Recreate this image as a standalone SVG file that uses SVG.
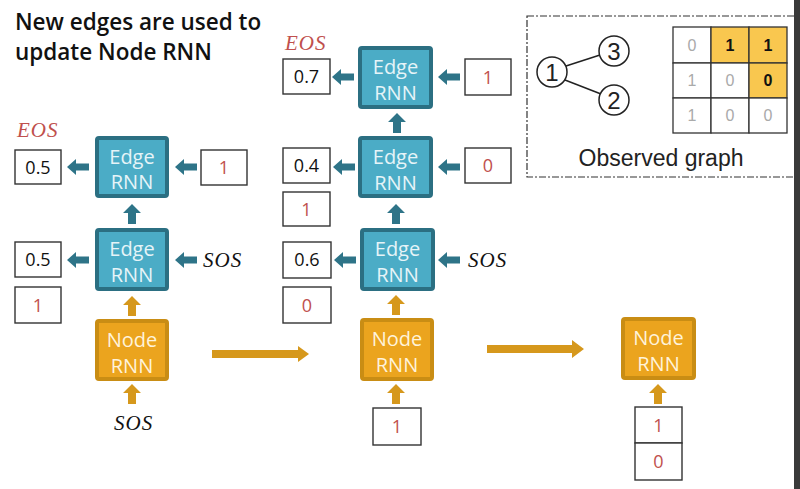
<svg xmlns="http://www.w3.org/2000/svg" xmlns:xlink="http://www.w3.org/1999/xlink" width="800" height="489" viewBox="0 0 800 489">
  <style>
    .title { font-family: "Open Sans", "Liberation Sans", sans-serif; font-weight: 600; font-size: 22.5px; fill: #111; }
    .edge rect { fill: #4BACC6; stroke: #2B6F82; stroke-width: 4; }
    .node rect { fill: #EBA41E; stroke: #C98D14; stroke-width: 4; }
    .rnn-t { font-family: "Open Sans", "Liberation Sans", sans-serif; font-size: 20px; text-anchor: middle; }
    .edge text { fill: #E6F4F8; }
    .node text { fill: #FFF3DA; }
    .box { fill: #fff; stroke: #333; stroke-width: 1.4; }
    .num { font-family: "Open Sans", "Liberation Sans", sans-serif; font-size: 18px; text-anchor: middle; fill: #111; }
    .red { fill: #C0504D; }
    .tok { font-family: "Liberation Serif", serif; font-style: italic; font-size: 21px; letter-spacing: 1px; fill: #111; }
    .tok.red { fill: #C0504D; }
    .ta { fill: #2E7488; }
    .oa { fill: #D6981C; }
    .gc { fill: #fff; stroke: #222; stroke-width: 1.5; }
    .gt { font-family: "Liberation Sans", sans-serif; font-size: 24px; text-anchor: middle; fill: #222; }
    .cell { fill: #fff; stroke: #333; stroke-width: 1.3; }
    .mt { font-family: "Liberation Sans", sans-serif; font-size: 16px; text-anchor: middle; fill: #AAAAAA; }
    .mt.b { fill: #111; font-weight: bold; }
  </style>
  <defs>
    <path id="la" d="M-11,0 L-2,-8 L-2,-3.5 L11,-3.5 L11,3.5 L-2,3.5 L-2,8 Z"/>
    <path id="ua" d="M0,-10 L9,-1 L4,-1 L4,10 L-4,10 L-4,-1 L-9,-1 Z"/>
  </defs>

  <rect x="0" y="0" width="800" height="489" fill="#fff"/>

  <g id="title">
    <text class="title" x="15" y="30">New edges are used to</text>
    <text class="title" x="15" y="60">update Node RNN</text>
  </g>

  <!-- Column 1 -->
  <g id="c1-eos"><text class="tok red" x="17" y="137">EOS</text></g>
  <g id="c1-out1"><rect class="box" x="15" y="150" width="46" height="34"/><text class="num" x="38" y="174">0.5</text></g>
  <g id="c1-edge1" class="edge"><rect x="97" y="138" width="70" height="58" rx="2"/><text class="rnn-t" x="132" y="164">Edge</text><text class="rnn-t" x="132" y="189">RNN</text></g>
  <g id="c1-in1"><rect class="box" x="201" y="150" width="46" height="35"/><text class="num red" x="224" y="174">1</text></g>
  <g id="c1-out2"><rect class="box" x="15" y="242" width="46" height="35"/><text class="num" x="38" y="266">0.5</text></g>
  <g id="c1-samp2"><rect class="box" x="15" y="287" width="46" height="36"/><text class="num red" x="38" y="312">1</text></g>
  <g id="c1-edge2" class="edge"><rect x="97" y="230" width="70" height="59" rx="2"/><text class="rnn-t" x="132" y="256">Edge</text><text class="rnn-t" x="132" y="282">RNN</text></g>
  <g id="c1-sos-r"><text class="tok" x="203" y="267">SOS</text></g>
  <g id="c1-node" class="node"><rect x="97" y="321" width="70" height="58" rx="2"/><text class="rnn-t" x="132" y="347">Node</text><text class="rnn-t" x="132" y="373">RNN</text></g>
  <g id="c1-sos-b"><text class="tok" x="114" y="430">SOS</text></g>

  <!-- Column 2 -->
  <g id="c2-eos"><text class="tok red" x="285" y="50">EOS</text></g>
  <g id="c2-out1"><rect class="box" x="283" y="59" width="47" height="35"/><text class="num" x="306.5" y="83">0.7</text></g>
  <g id="c2-edge1" class="edge"><rect x="360" y="48" width="71" height="59" rx="2"/><text class="rnn-t" x="395.5" y="74">Edge</text><text class="rnn-t" x="395.5" y="100">RNN</text></g>
  <g id="c2-in1"><rect class="box" x="465" y="59" width="46" height="36"/><text class="num red" x="488" y="84">1</text></g>
  <g id="c2-out2"><rect class="box" x="283" y="148" width="47" height="35"/><text class="num" x="306.5" y="172">0.4</text></g>
  <g id="c2-samp2"><rect class="box" x="283" y="192" width="47" height="34"/><text class="num red" x="306.5" y="216">1</text></g>
  <g id="c2-edge2" class="edge"><rect x="360" y="138" width="71" height="58" rx="2"/><text class="rnn-t" x="395.5" y="164">Edge</text><text class="rnn-t" x="395.5" y="190">RNN</text></g>
  <g id="c2-in2"><rect class="box" x="465" y="148" width="46" height="35"/><text class="num red" x="488" y="172">0</text></g>
  <g id="c2-out3"><rect class="box" x="283" y="242" width="48" height="36"/><text class="num" x="307" y="266">0.6</text></g>
  <g id="c2-samp3"><rect class="box" x="283" y="287" width="48" height="36"/><text class="num red" x="307" y="312">0</text></g>
  <g id="c2-edge3" class="edge"><rect x="362" y="230" width="71" height="59" rx="2"/><text class="rnn-t" x="397.5" y="256">Edge</text><text class="rnn-t" x="397.5" y="282">RNN</text></g>
  <g id="c2-sos-r"><text class="tok" x="468" y="267">SOS</text></g>
  <g id="c2-node" class="node"><rect x="362" y="320" width="70" height="59" rx="2"/><text class="rnn-t" x="397" y="346">Node</text><text class="rnn-t" x="397" y="372">RNN</text></g>
  <g id="c2-in"><rect class="box" x="373" y="408" width="48" height="37"/><text class="num red" x="397" y="433">1</text></g>

  <!-- Column 3 -->
  <g id="c3-node" class="node"><rect x="623" y="319" width="71" height="59" rx="2"/><text class="rnn-t" x="658.5" y="345">Node</text><text class="rnn-t" x="658.5" y="371">RNN</text></g>
  <g id="c3-in"><rect class="box" x="635" y="407" width="47" height="36"/><text class="num red" x="658.5" y="432">1</text><rect class="box" x="635" y="443" width="47" height="37"/><text class="num red" x="658.5" y="468">0</text></g>

  <!-- Observed graph -->
  <g id="observed">
    <rect x="527" y="16" width="280" height="161" fill="none" stroke="#333" stroke-width="1.2" stroke-dasharray="7 2 2 2"/>
    <line x1="566" y1="66" x2="600" y2="55" stroke="#222" stroke-width="1.5"/>
    <line x1="565" y1="80" x2="601" y2="94" stroke="#222" stroke-width="1.5"/>
    <circle class="gc" cx="552" cy="72" r="15"/><text class="gt" x="552" y="81">1</text>
    <circle class="gc" cx="614" cy="51" r="15"/><text class="gt" x="614" y="60">3</text>
    <circle class="gc" cx="614" cy="100" r="15"/><text class="gt" x="614" y="109">2</text>
    <rect class="cell" x="673" y="27" width="38" height="36"/>
    <rect class="cell" x="711" y="27" width="38" height="36" style="fill:#F9C74F"/>
    <rect class="cell" x="749" y="27" width="38" height="36" style="fill:#F9C74F"/>
    <rect class="cell" x="673" y="63" width="38" height="35"/>
    <rect class="cell" x="711" y="63" width="38" height="35"/>
    <rect class="cell" x="749" y="63" width="38" height="35" style="fill:#F9C74F"/>
    <rect class="cell" x="673" y="98" width="38" height="35"/>
    <rect class="cell" x="711" y="98" width="38" height="35"/>
    <rect class="cell" x="749" y="98" width="38" height="35"/>
    <text class="mt" x="692" y="51">0</text><text class="mt b" x="730" y="51">1</text><text class="mt b" x="768" y="51">1</text>
    <text class="mt" x="692" y="86">1</text><text class="mt" x="730" y="86">0</text><text class="mt b" x="768" y="86">0</text>
    <text class="mt" x="692" y="121">1</text><text class="mt" x="730" y="121">0</text><text class="mt" x="768" y="121">0</text>
    <text x="661" y="166" font-family="Liberation Sans, sans-serif" font-size="23" text-anchor="middle" fill="#222">Observed graph</text>
  </g>

  <!-- Connectors -->
  <g id="connectors">
    <use href="#la" class="ta" x="78" y="167"/>
    <use href="#la" class="ta" x="186" y="167"/>
    <use href="#ua" class="ta" x="132" y="214"/>
    <use href="#la" class="ta" x="78" y="260"/>
    <use href="#la" class="ta" x="186" y="260"/>
    <use href="#ua" class="oa" x="132" y="306"/>
    <use href="#ua" class="oa" x="132" y="394"/>

    <use href="#la" class="ta" x="343" y="77"/>
    <use href="#la" class="ta" x="449" y="77"/>
    <use href="#ua" class="ta" x="397" y="123"/>
    <use href="#la" class="ta" x="344" y="167"/>
    <use href="#la" class="ta" x="449" y="167"/>
    <use href="#ua" class="ta" x="396" y="214"/>
    <use href="#la" class="ta" x="345" y="260"/>
    <use href="#la" class="ta" x="449" y="260"/>
    <use href="#ua" class="oa" x="396" y="305"/>
    <use href="#ua" class="oa" x="396" y="394"/>

    <use href="#ua" class="oa" x="658" y="394"/>

    <path class="oa" d="M212,350 L298,350 L298,346 L309,354 L298,362 L298,358 L212,358 Z"/>
    <path class="oa" d="M487,345 L572,345 L572,340 L584,349 L572,358 L572,353 L487,353 Z"/>
  </g>

  <rect x="794" y="0" width="6" height="489" fill="#3A3A3A"/>
</svg>
